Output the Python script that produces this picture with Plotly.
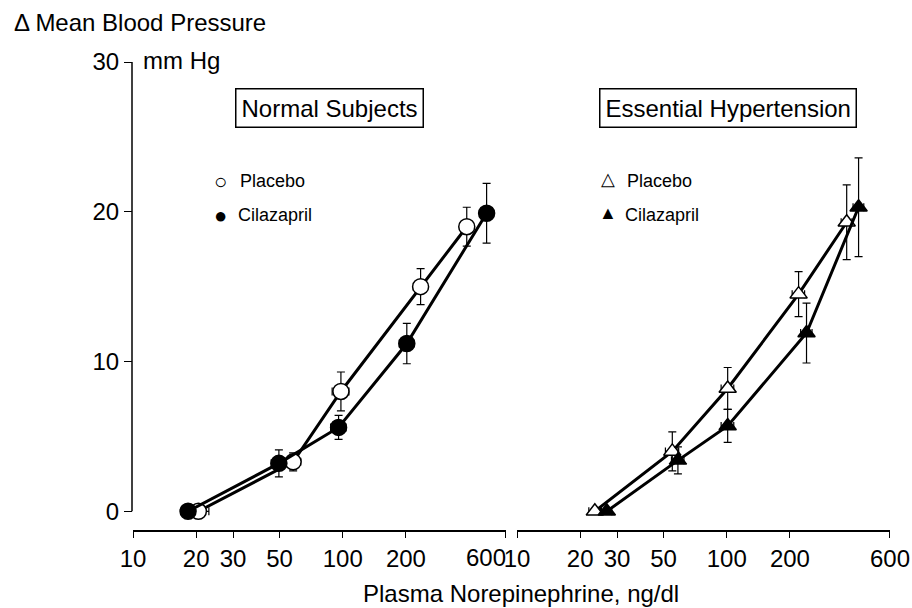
import plotly.graph_objects as go

# Normal subjects (circles)
norm_plac_x = [20.5, 58, 98, 235, 390]
norm_plac_y = [0.0, 3.3, 8.0, 15.0, 19.0]
norm_plac_ey = [0.0, 0.6, 1.3, 1.2, 1.3]
norm_plac_ex = [2.5, 5, 9, 18, 25]

norm_cila_x = [18.3, 49.6, 95.5, 202, 485]
norm_cila_y = [0.0, 3.2, 5.6, 11.2, 19.9]
norm_cila_ey = [0.0, 0.9, 0.8, 1.35, 2.0]
norm_cila_ex = [1.0, 4, 8, 16, 30]

# Essential hypertension (triangles)
hyp_plac_x = [23.5, 55, 101, 220, 373]
hyp_plac_y = [0.0, 4.0, 8.2, 14.5, 19.3]
hyp_plac_ey = [0.0, 1.3, 1.4, 1.5, 2.5]
hyp_plac_ex = [1.5, 4, 7, 15, 22]

hyp_cila_x = [26.8, 58.5, 101, 240, 425]
hyp_cila_y = [0.0, 3.4, 5.7, 11.9, 20.3]
hyp_cila_ey = [0.0, 0.9, 1.1, 2.0, 3.3]
hyp_cila_ex = [1.5, 4, 7, 15, 25]

x_ticks = [10, 20, 30, 50, 100, 200, 600]
y_ticks = [0, 10, 20, 30]

FONT = "Liberation Sans, Arial, Helvetica, sans-serif"
W, H = 912, 608


def px(x):
    return x / W


def py(y):
    return 1 - y / H


def series(x, y, ey, ex, xaxis, symbol, fill):
    return go.Scatter(
        x=x, y=y, xaxis=xaxis, yaxis="y", mode="lines+markers",
        line=dict(color="black", width=3),
        marker=dict(symbol=symbol, size=16 if symbol == "circle" else 15,
                    color=fill, line=dict(color="black", width=1.5)),
        error_y=dict(type="data", array=ey, color="black", thickness=1.2, width=4),
        error_x=dict(type="data", array=ex, color="black", thickness=1.2, width=4),
        showlegend=False, hoverinfo="x+y",
    )


fig = go.Figure()
fig.add_trace(series(norm_plac_x, norm_plac_y, norm_plac_ey, norm_plac_ex, "x", "circle", "white"))
fig.add_trace(series(norm_cila_x, norm_cila_y, norm_cila_ey, norm_cila_ex, "x", "circle", "black"))
fig.add_trace(series(hyp_plac_x, hyp_plac_y, hyp_plac_ey, hyp_plac_ex, "x2", "triangle-up", "white"))
fig.add_trace(series(hyp_cila_x, hyp_cila_y, hyp_cila_ey, hyp_cila_ex, "x2", "triangle-up", "black"))

xax = dict(
    type="log", range=[1, 2.7782], tickvals=x_ticks,
    showline=True, linecolor="black", linewidth=1.5, ticks="outside", ticklen=6,
    tickwidth=1.2, tickcolor="black", showgrid=False, zeroline=False, automargin=False,
    tickfont=dict(family=FONT, size=24, color="black"), anchor="y",
)
# left panel's "600" is drawn as an annotation, nudged left like the original
left_ticktext = [str(v) for v in x_ticks[:-1]] + [""]

fig.update_layout(
    template="none",
    width=W, height=H, margin=dict(l=0, r=0, t=0, b=0, pad=0), autosize=False,
    plot_bgcolor="white", paper_bgcolor="white",
    font=dict(family=FONT, color="black"),
    xaxis=dict(xax, domain=[px(133), px(506)], ticktext=left_ticktext),
    xaxis2=dict(xax, domain=[px(517), px(890)], ticktext=[str(v) for v in x_ticks]),
    yaxis=dict(
        range=[-1.25, 30], domain=[py(530), py(62)], tickvals=y_ticks,
        showline=False, ticks="outside", ticklen=8, tickwidth=1.2, tickcolor="black",
        showgrid=False, zeroline=False, anchor="free", position=px(132), automargin=False,
        tickfont=dict(family=FONT, size=24, color="black"),
    ),
    shapes=[dict(type="line", xref="paper", yref="y", x0=px(132), x1=px(132),
                 y0=0, y1=30, line=dict(color="black", width=1.5))],
)

ann = [
    dict(text="Δ Mean Blood Pressure", x=px(12), y=py(22), xanchor="left", font_size=24),
    dict(text="mm Hg", x=px(141), y=py(61), xanchor="left", font_size=24),
    dict(text="Normal Subjects", x=px(329), y=py(108), font_size=24,
         bordercolor="black", borderwidth=1.5, borderpad=5, bgcolor="white"),
    dict(text="Essential Hypertension", x=px(728), y=py(108), font_size=24,
         bordercolor="black", borderwidth=1.5, borderpad=5, bgcolor="white"),
    dict(text="○", x=px(220), y=py(181), font_size=22),
    dict(text="Placebo", x=px(238), y=py(181), xanchor="left", font_size=18),
    dict(text="●", x=px(220), y=py(215), font_size=22),
    dict(text="Cilazapril", x=px(236), y=py(215), xanchor="left", font_size=18),
    dict(text="△", x=px(608), y=py(179), font_size=18),
    dict(text="Placebo", x=px(625), y=py(181), xanchor="left", font_size=18),
    dict(text="▲", x=px(608), y=py(213), font_size=18),
    dict(text="Cilazapril", x=px(623), y=py(215), xanchor="left", font_size=18),
    dict(text="600", x=px(508), y=py(557), xanchor="right", font_size=24),
    dict(text="Plasma Norepinephrine, ng/dl", x=px(521), y=py(593), font_size=24),
]
for a in ann:
    a.update(xref="paper", yref="paper", showarrow=False)
    a.setdefault("xanchor", "center")
    a["yanchor"] = "middle"
    a["font"] = dict(family=FONT, size=a.pop("font_size"), color="black")
fig.update_layout(annotations=ann)

fig.write_html("out.html", config={"displayModeBar": False},
               post_script="document.body.style.margin='0';")
